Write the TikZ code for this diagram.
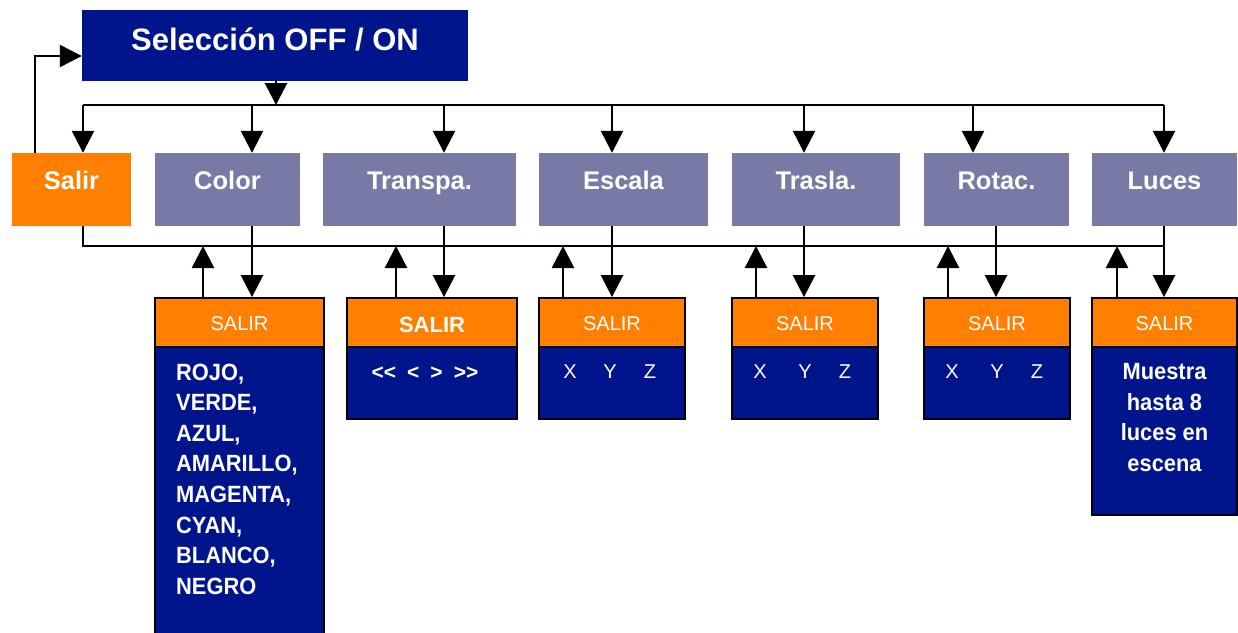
\documentclass[tikz,border=0pt]{standalone}
\usepackage{fontspec}
\setmainfont{Liberation Sans}
\newfontfamily\condfont{Liberation Sans}[FakeStretch=0.93]
\usetikzlibrary{arrows.meta}
\definecolor{navy}{RGB}{0,20,140}
\definecolor{lav}{RGB}{121,121,166}
\definecolor{org}{RGB}{255,128,0}
\tikzset{
  arr/.style={line width=2.5pt,-{Triangle[width=22pt,length=22pt]}},
  ln/.style={line width=2.5pt},
  plainbox/.style={rectangle,inner sep=0pt,draw=none},
  topbox/.style={plainbox,fill=lav},
  hdr/.style={rectangle,inner sep=0pt,fill=org,draw=black,line width=1.8pt,minimum height=49pt},
  body/.style={rectangle,inner sep=0pt,fill=navy,draw=black,line width=1.8pt},
  toptxt/.style={text=white,inner sep=0pt,anchor=base,font=\fontsize{25.5}{30}\selectfont\bfseries},
  hdrtxt/.style={text=white,inner sep=0pt,anchor=base,font=\fontsize{20}{24}\selectfont},
  xyz/.style={text=white,inner sep=0pt,anchor=base,font=\fontsize{20}{24}\selectfont},
  listtxt/.style={text=white,inner sep=0pt,font=\condfont\fontsize{23.5}{30.6}\selectfont\bfseries},
}
\begin{document}
\begin{tikzpicture}[x=1pt,y=-1pt]
\useasboundingbox (0,0) rectangle (1238,632);
\clip (0,0) rectangle (1238,632);
\fill[white] (0,0) rectangle (1238,632);

% top node
\node[plainbox,fill=navy,minimum width=386pt,minimum height=71pt] (sel) at (275,45.5) {};
\node[toptxt,font=\fontsize{31}{36}\selectfont\bfseries] (selt) at (275,50) {Selección OFF / ON};

% first row
\node[plainbox,fill=org,minimum width=119pt,minimum height=73pt] (salir) at (71.5,189.5) {};
\node[topbox,minimum width=145pt,minimum height=73pt] (color) at (227.5,189.5) {};
\node[topbox,minimum width=193pt,minimum height=73pt] (transpa) at (419.5,189.5) {};
\node[topbox,minimum width=169pt,minimum height=73pt] (escala) at (623.5,189.5) {};
\node[topbox,minimum width=168pt,minimum height=73pt] (trasla) at (816,189.5) {};
\node[topbox,minimum width=145pt,minimum height=73pt] (rotac) at (996.5,189.5) {};
\node[topbox,minimum width=145pt,minimum height=73pt] (luces) at (1164.5,189.5) {};
\node[toptxt] (salirt) at (71.5,189.5) {Salir};
\node[toptxt] (colort) at (227.5,189.5) {Color};
\node[toptxt] (transpat) at (419.5,189.5) {Transpa.};
\node[toptxt] (escalat) at (623.5,189.5) {Escala};
\node[toptxt] (traslat) at (816,189.5) {Trasla.};
\node[toptxt] (rotact) at (996.5,189.5) {Rotac.};
\node[toptxt] (lucest) at (1164.5,189.5) {Luces};

% sub boxes: bodies
\node[body,minimum width=169pt,minimum height=293pt] (b1) at (239.5,493.5) {};
\node[body,minimum width=170pt,minimum height=72pt] (b2) at (432,383) {};
\node[body,minimum width=146pt,minimum height=72pt] (b3) at (612,383) {};
\node[body,minimum width=146pt,minimum height=72pt] (b4) at (805,383) {};
\node[body,minimum width=146pt,minimum height=72pt] (b5) at (997,383) {};
\node[body,minimum width=145pt,minimum height=168pt] (b6) at (1164.5,431) {};
% headers
\node[hdr,minimum width=169pt] (h1) at (239.5,322.5) {};
\node[hdr,minimum width=170pt] (h2) at (432,322.5) {};
\node[hdr,minimum width=146pt] (h3) at (612,322.5) {};
\node[hdr,minimum width=146pt] (h4) at (805,322.5) {};
\node[hdr,minimum width=146pt] (h5) at (997,322.5) {};
\node[hdr,minimum width=145pt] (h6) at (1164.5,322.5) {};
\node[hdrtxt] (h1t) at (239.5,330.5) {SALIR};
\node[hdrtxt,font=\fontsize{22}{26}\selectfont\bfseries] (h2t) at (432,332.5) {SALIR};
\node[hdrtxt] (h3t) at (612,330.5) {SALIR};
\node[hdrtxt] (h4t) at (805,330.5) {SALIR};
\node[hdrtxt] (h5t) at (997,330.5) {SALIR};
\node[hdrtxt] (h6t) at (1164.5,330.5) {SALIR};

% body texts
\node[listtxt,anchor=north west,align=left] (b1t) at (176,363.5) {ROJO,\\VERDE,\\AZUL,\\AMARILLO,\\MAGENTA,\\CYAN,\\BLANCO,\\NEGRO};
\node[xyz,font=\fontsize{21}{24}\selectfont\bfseries] (b2t) at (425,379) {<\kern0pt<\hspace{11pt}<\hspace{11pt}>\hspace{11pt}>\kern0pt>};
\node[xyz] (b3x) at (570,378.5) {X};
\node[xyz] (b3y) at (610,378.5) {Y};
\node[xyz] (b3z) at (650,378.5) {Z};
\node[xyz] (b4x) at (760,378.5) {X};
\node[xyz] (b4y) at (805,378.5) {Y};
\node[xyz] (b4z) at (845,378.5) {Z};
\node[xyz] (b5x) at (952,378.5) {X};
\node[xyz] (b5y) at (997,378.5) {Y};
\node[xyz] (b5z) at (1037,378.5) {Z};
\node[listtxt,align=center] (b6t) at (1164.5,417.6) {Muestra\\hasta 8\\luces en\\escena};

% upper bus
\coordinate (j0) at (276,105);
\coordinate (t1) at (83,105);
\coordinate (t2) at (252,105);
\coordinate (t3) at (444,105);
\coordinate (t4) at (612,105);
\coordinate (t5) at (804,105);
\coordinate (t6) at (973,105);
\coordinate (t7) at (1164,105);
\draw[ln] (t1) -- (t7);
\draw[arr] (sel.south -| j0) -- (j0);
\draw[arr] (t1) -- (t1 |- salir.north);
\draw[arr] (t2) -- (t2 |- color.north);
\draw[arr] (t3) -- (t3 |- transpa.north);
\draw[arr] (t4) -- (t4 |- escala.north);
\draw[arr] (t5) -- (t5 |- trasla.north);
\draw[arr] (t6) -- (t6 |- rotac.north);
\draw[arr] (t7) -- (t7 |- luces.north);

% feedback from Salir
\coordinate (fb) at (35,56);
\draw[arr] (salir.north -| fb) -- (fb) -- (sel.west |- fb);

% lower bus
\coordinate (u1) at (83,246);
\coordinate (u7) at (1164,246);
\draw[ln] (salir.south -| u1) -- (u1) -- (u7);
\coordinate (d1) at (252,246);
\coordinate (d2) at (444,246);
\coordinate (d3) at (612,246);
\coordinate (d4) at (804,246);
\coordinate (d5) at (996,246);
\coordinate (d6) at (1164,246);
\draw[arr] (color.south -| d1) -- (h1.north -| d1);
\draw[arr] (transpa.south -| d2) -- (h2.north -| d2);
\draw[arr] (escala.south -| d3) -- (h3.north -| d3);
\draw[arr] (trasla.south -| d4) -- (h4.north -| d4);
\draw[arr] (rotac.south -| d5) -- (h5.north -| d5);
\draw[arr] (luces.south -| d6) -- (h6.north -| d6);
\coordinate (e1) at (203,246);
\coordinate (e2) at (396,246);
\coordinate (e3) at (563,246);
\coordinate (e4) at (756,246);
\coordinate (e5) at (948,246);
\coordinate (e6) at (1117,246);
\draw[arr] (h1.north -| e1) -- (e1);
\draw[arr] (h2.north -| e2) -- (e2);
\draw[arr] (h3.north -| e3) -- (e3);
\draw[arr] (h4.north -| e4) -- (e4);
\draw[arr] (h5.north -| e5) -- (e5);
\draw[arr] (h6.north -| e6) -- (e6);
\end{tikzpicture}
\end{document}
